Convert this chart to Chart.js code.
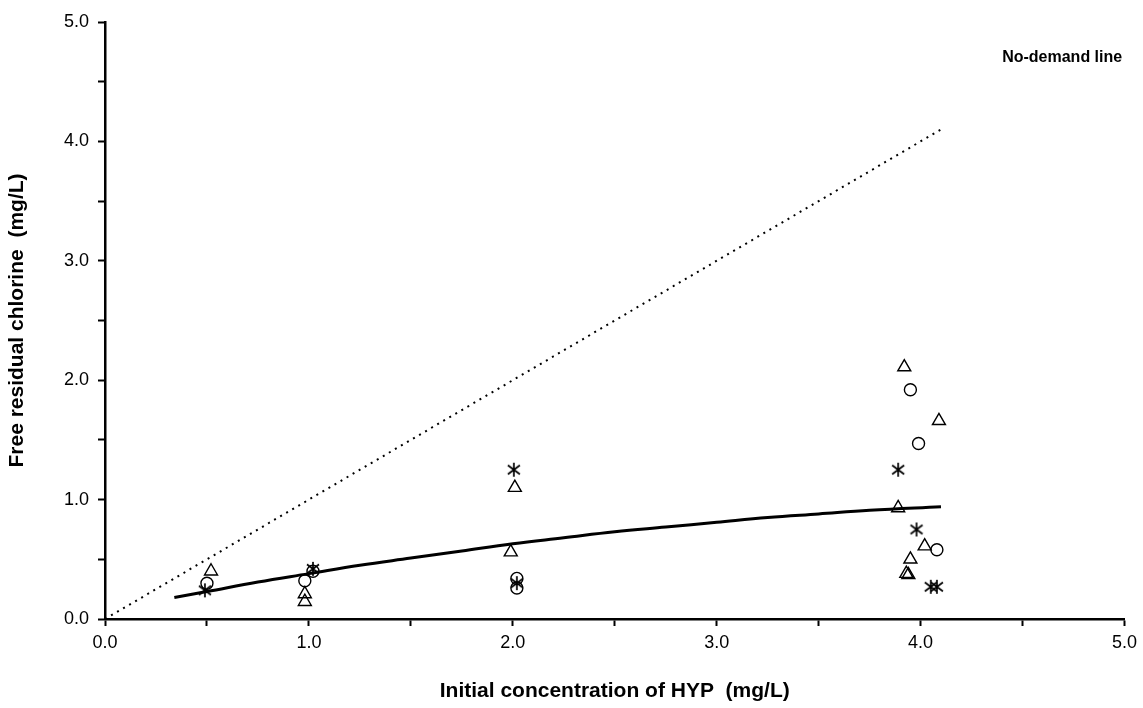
<!DOCTYPE html>
<html>
<head>
<meta charset="utf-8">
<script src="https://cdn.jsdelivr.net/npm/chart.js@4.4.0/dist/chart.umd.min.js"></script>
<style>
  body { margin: 0; background: #fff; }
  #wrap { width: 1143px; height: 708px; }
</style>
</head>
<body>
<div id="wrap"><canvas id="chart" width="1143" height="708"></canvas></div>
<script>
// tick labels (major ticks every 1.0, minor every 0.5)
const xTickLabels = ['0.0', '1.0', '2.0', '3.0', '4.0', '5.0'];
const yTickLabels = ['0.0', '1.0', '2.0', '3.0', '4.0', '5.0'];

// triangles
const triX = [0.52, 0.98, 0.98, 2.01, 1.99, 3.92, 4.09, 3.89, 4.02, 3.95, 3.93, 3.94];
const triY = [0.40, 0.21, 0.145, 1.10, 0.56, 2.11, 1.66, 0.93, 0.61, 0.50, 0.38, 0.37];

// circles
const circX = [0.50, 0.98, 1.02, 2.02, 2.02, 3.95, 3.99, 4.08];
const circY = [0.30, 0.32, 0.40, 0.34, 0.26, 1.92, 1.47, 0.58];

// asterisks
const starX = [0.49, 1.02, 2.005, 2.02, 3.89, 3.98, 4.05, 4.08];
const starY = [0.24, 0.42, 1.25, 0.30, 1.25, 0.75, 0.27, 0.27];

// fitted curve
const fitX = [0.34, 0.5, 0.75, 1.0, 1.25, 1.5, 1.75, 2.0, 2.25, 2.5, 2.75, 3.0, 3.25, 3.5, 3.75, 4.1];
const fitY = [0.18, 0.23, 0.31, 0.38, 0.45, 0.51, 0.57, 0.63, 0.68, 0.73, 0.77, 0.81, 0.85, 0.88, 0.91, 0.94];

// no-demand line (residual = dose)
const noDemandX = [0, 4.1];
const noDemandY = [0, 4.1];

const toPts = (xs, ys) => xs.map((x, i) => ({ x: x, y: ys[i] }));

// six-ray asterisk marker
const star = document.createElement('canvas');
star.width = 16; star.height = 16;
const sc = star.getContext('2d');
sc.strokeStyle = '#000';
sc.lineWidth = 1.7;
sc.beginPath();
sc.moveTo(8, 1); sc.lineTo(8, 15);
sc.moveTo(2, 3.5); sc.lineTo(14, 12.5);
sc.moveTo(14, 3.5); sc.lineTo(2, 12.5);
sc.stroke();

const labelPlugin = {
    id: 'noDemandLabel',
    afterDatasetsDraw(chart) {
        const ctx = chart.ctx;
        const xs = chart.scales.x, ys = chart.scales.y;
        ctx.save();
        ctx.font = 'bold 16px Arial, "Liberation Sans", sans-serif';
        ctx.fillStyle = '#000';
        ctx.textBaseline = 'middle';
        ctx.fillText('No-demand line', xs.getPixelForValue(4.4), ys.getPixelForValue(4.7));
        ctx.restore();
    }
};

const tickFont = { family: 'Arial, "Liberation Sans", sans-serif', size: 18 };
const titleFont = { family: 'Arial, "Liberation Sans", sans-serif', size: 21, weight: 'bold' };

var ctx = document.getElementById('chart').getContext('2d');
var chart = new Chart(ctx, {
    type: 'scatter',
    data: {
        datasets: [
            {
                label: 'No-demand line',
                data: toPts(noDemandX, noDemandY),
                showLine: true,
                borderColor: '#000',
                borderWidth: 2,
                borderDash: [2, 5],
                pointRadius: 0,
            },
            {
                label: 'Fit',
                data: toPts(fitX, fitY),
                showLine: true,
                borderColor: '#000',
                borderWidth: 3,
                tension: 0.4,
                pointRadius: 0,
            },
            {
                label: 'Triangles',
                data: toPts(triX, triY),
                pointStyle: 'triangle',
                pointRadius: 7.5,
                backgroundColor: 'rgba(255,255,255,0)',
                borderColor: '#000',
                borderWidth: 1.4,
            },
            {
                label: 'Circles',
                data: toPts(circX, circY),
                pointStyle: 'circle',
                pointRadius: 6,
                backgroundColor: 'rgba(255,255,255,0)',
                borderColor: '#000',
                borderWidth: 1.4,
            },
            {
                label: 'Asterisks',
                data: toPts(starX, starY),
                pointStyle: star,
                borderColor: '#000',
            },
        ],
    },
    options: {
        responsive: false,
        animation: false,
        layout: { padding: { top: 22, right: 13, left: 0, bottom: 0 } },
        plugins: {
            legend: { display: false },
            tooltip: { enabled: false },
        },
        scales: {
            x: {
                type: 'linear',
                min: 0,
                max: 5,
                afterFit: (s) => { s.height = 89; },
                border: { color: '#000', width: 2.5 },
                grid: { drawOnChartArea: false, tickLength: 7, tickColor: '#000', tickWidth: 2 },
                ticks: {
                    stepSize: 0.5,
                    autoSkip: false,
                    maxRotation: 0,
                    padding: 6,
                    color: '#000',
                    font: tickFont,
                    callback: (v) => Number.isInteger(v) ? xTickLabels[v] : '',
                },
                title: {
                    display: true,
                    text: 'Initial concentration of HYP  (mg/L)',
                    color: '#000',
                    font: titleFont,
                    padding: { top: 0, bottom: 4 },
                },
            },
            y: {
                type: 'linear',
                min: 0,
                max: 5,
                afterFit: (s) => { s.width = 105; },
                border: { color: '#000', width: 2.5 },
                grid: { drawOnChartArea: false, tickLength: 7, tickColor: '#000', tickWidth: 2 },
                ticks: {
                    stepSize: 0.5,
                    autoSkip: false,
                    padding: 9,
                    color: '#000',
                    font: tickFont,
                    callback: (v) => Number.isInteger(v) ? yTickLabels[v] : '',
                },
                title: {
                    display: true,
                    text: 'Free residual chlorine  (mg/L)',
                    color: '#000',
                    font: titleFont,
                    padding: { top: 5, bottom: 0 },
                },
            },
        },
    },
    plugins: [labelPlugin],
});
</script>
</body>
</html>
